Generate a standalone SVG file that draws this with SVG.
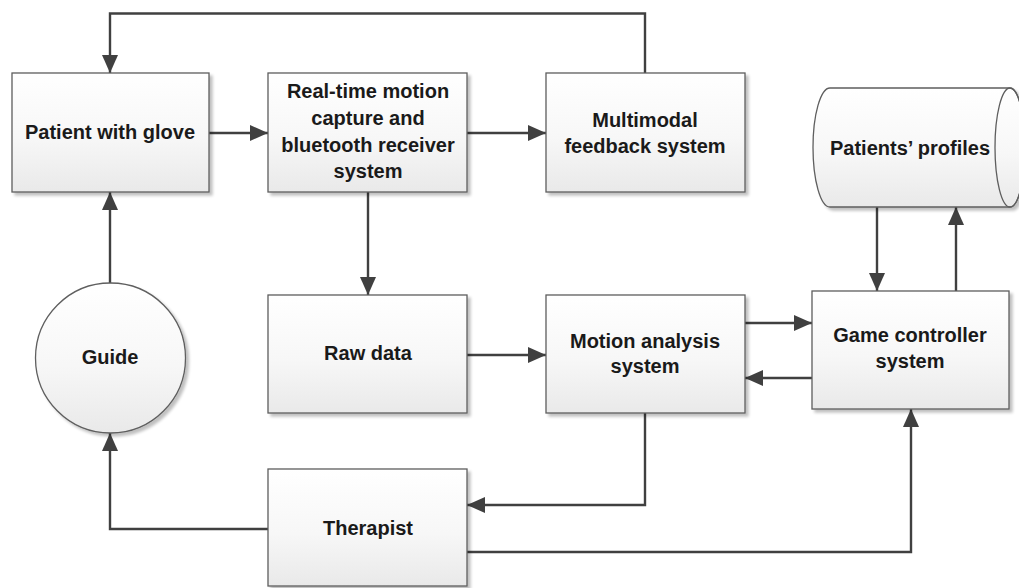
<svg xmlns="http://www.w3.org/2000/svg" width="1019" height="588" viewBox="0 0 1019 588">
  <defs>
    <linearGradient id="boxFill" x1="0" y1="0" x2="0" y2="1">
      <stop offset="0" stop-color="#ffffff"/>
      <stop offset="0.55" stop-color="#f7f7f7"/>
      <stop offset="1" stop-color="#e9e9e9"/>
    </linearGradient>
    <filter id="shadow" x="-10%" y="-10%" width="125%" height="125%">
      <feGaussianBlur in="SourceAlpha" stdDeviation="1.5"/>
      <feOffset dx="2.5" dy="2.5" result="off"/>
      <feComponentTransfer><feFuncA type="linear" slope="0.25"/></feComponentTransfer>
      <feMerge><feMergeNode/><feMergeNode in="SourceGraphic"/></feMerge>
    </filter>
    <marker id="arrow" markerUnits="userSpaceOnUse" markerWidth="19" markerHeight="17" refX="18" refY="8" orient="auto">
      <path d="M0,0 L18,8 L0,16 z" fill="#404040"/>
    </marker>
  </defs>
  <style>
    .box { fill: url(#boxFill); stroke: #5e5e5e; stroke-width: 1.3; filter: url(#shadow); }
    .lbl { font-family: "Liberation Sans", Arial, sans-serif; font-weight: bold; font-size: 20px; fill: #1a1a1a; text-anchor: middle; }
    .conn { fill: none; stroke: #404040; stroke-width: 2.4; }
    .arr { marker-end: url(#arrow); }
  </style>

  <rect width="1019" height="588" fill="#ffffff"/>

  <!-- connectors -->
  <g id="connectors">
    <line class="conn arr" x1="209" y1="133" x2="268" y2="133"/>
    <line class="conn arr" x1="467" y1="133" x2="546" y2="133"/>
    <path class="conn arr" d="M645,73 V13.5 H110 V73"/>
    <line class="conn arr" x1="368" y1="192" x2="368" y2="295"/>
    <line class="conn arr" x1="110" y1="283" x2="110" y2="192"/>
    <path class="conn arr" d="M268,529 H110 V433"/>
    <line class="conn arr" x1="467" y1="355" x2="546" y2="355"/>
    <line class="conn arr" x1="745" y1="323" x2="812" y2="323"/>
    <line class="conn arr" x1="812" y1="378" x2="745" y2="378"/>
    <path class="conn arr" d="M645,413 V505 H467"/>
    <path class="conn arr" d="M467,552 H911 V409"/>
    <line class="conn arr" x1="877" y1="207" x2="877" y2="291"/>
    <line class="conn arr" x1="956" y1="291" x2="956" y2="207"/>
  </g>

  <!-- nodes -->
  <g id="patient">
    <rect class="box" x="12" y="73" width="197" height="119"/>
    <text class="lbl" x="110" y="139">Patient with glove</text>
  </g>

  <g id="capture">
    <rect class="box" x="268" y="73" width="199" height="119"/>
    <text class="lbl" x="368" y="98">Real-time motion</text>
    <text class="lbl" x="368" y="125">capture and</text>
    <text class="lbl" x="368" y="152">bluetooth receiver</text>
    <text class="lbl" x="368" y="178">system</text>
  </g>

  <g id="feedback">
    <rect class="box" x="546" y="73" width="199" height="119"/>
    <text class="lbl" x="645" y="127">Multimodal</text>
    <text class="lbl" x="645" y="153">feedback system</text>
  </g>

  <g id="profiles">
    <path class="box" d="M830,88 H1010 A15,59.5 0 0 1 1010,207 H830 A17,59.5 0 0 1 830,88 Z"/>
    <ellipse cx="1010" cy="147.5" rx="15" ry="59.5" fill="none" stroke="#5e5e5e" stroke-width="1.3"/>
    <text class="lbl" x="910" y="155">Patients’ profiles</text>
  </g>

  <g id="guide">
    <circle class="box" cx="110.5" cy="358" r="75"/>
    <text class="lbl" x="110" y="364">Guide</text>
  </g>

  <g id="raw-data">
    <rect class="box" x="268" y="295" width="199" height="118"/>
    <text class="lbl" x="368" y="360">Raw data</text>
  </g>

  <g id="motion-analysis">
    <rect class="box" x="546" y="295" width="199" height="118"/>
    <text class="lbl" x="645" y="348">Motion analysis</text>
    <text class="lbl" x="645" y="373">system</text>
  </g>

  <g id="game-controller">
    <rect class="box" x="812" y="291" width="197" height="118"/>
    <text class="lbl" x="910" y="342">Game controller</text>
    <text class="lbl" x="910" y="368">system</text>
  </g>

  <g id="therapist">
    <rect class="box" x="268" y="469" width="199" height="117"/>
    <text class="lbl" x="368" y="535">Therapist</text>
  </g>
</svg>
